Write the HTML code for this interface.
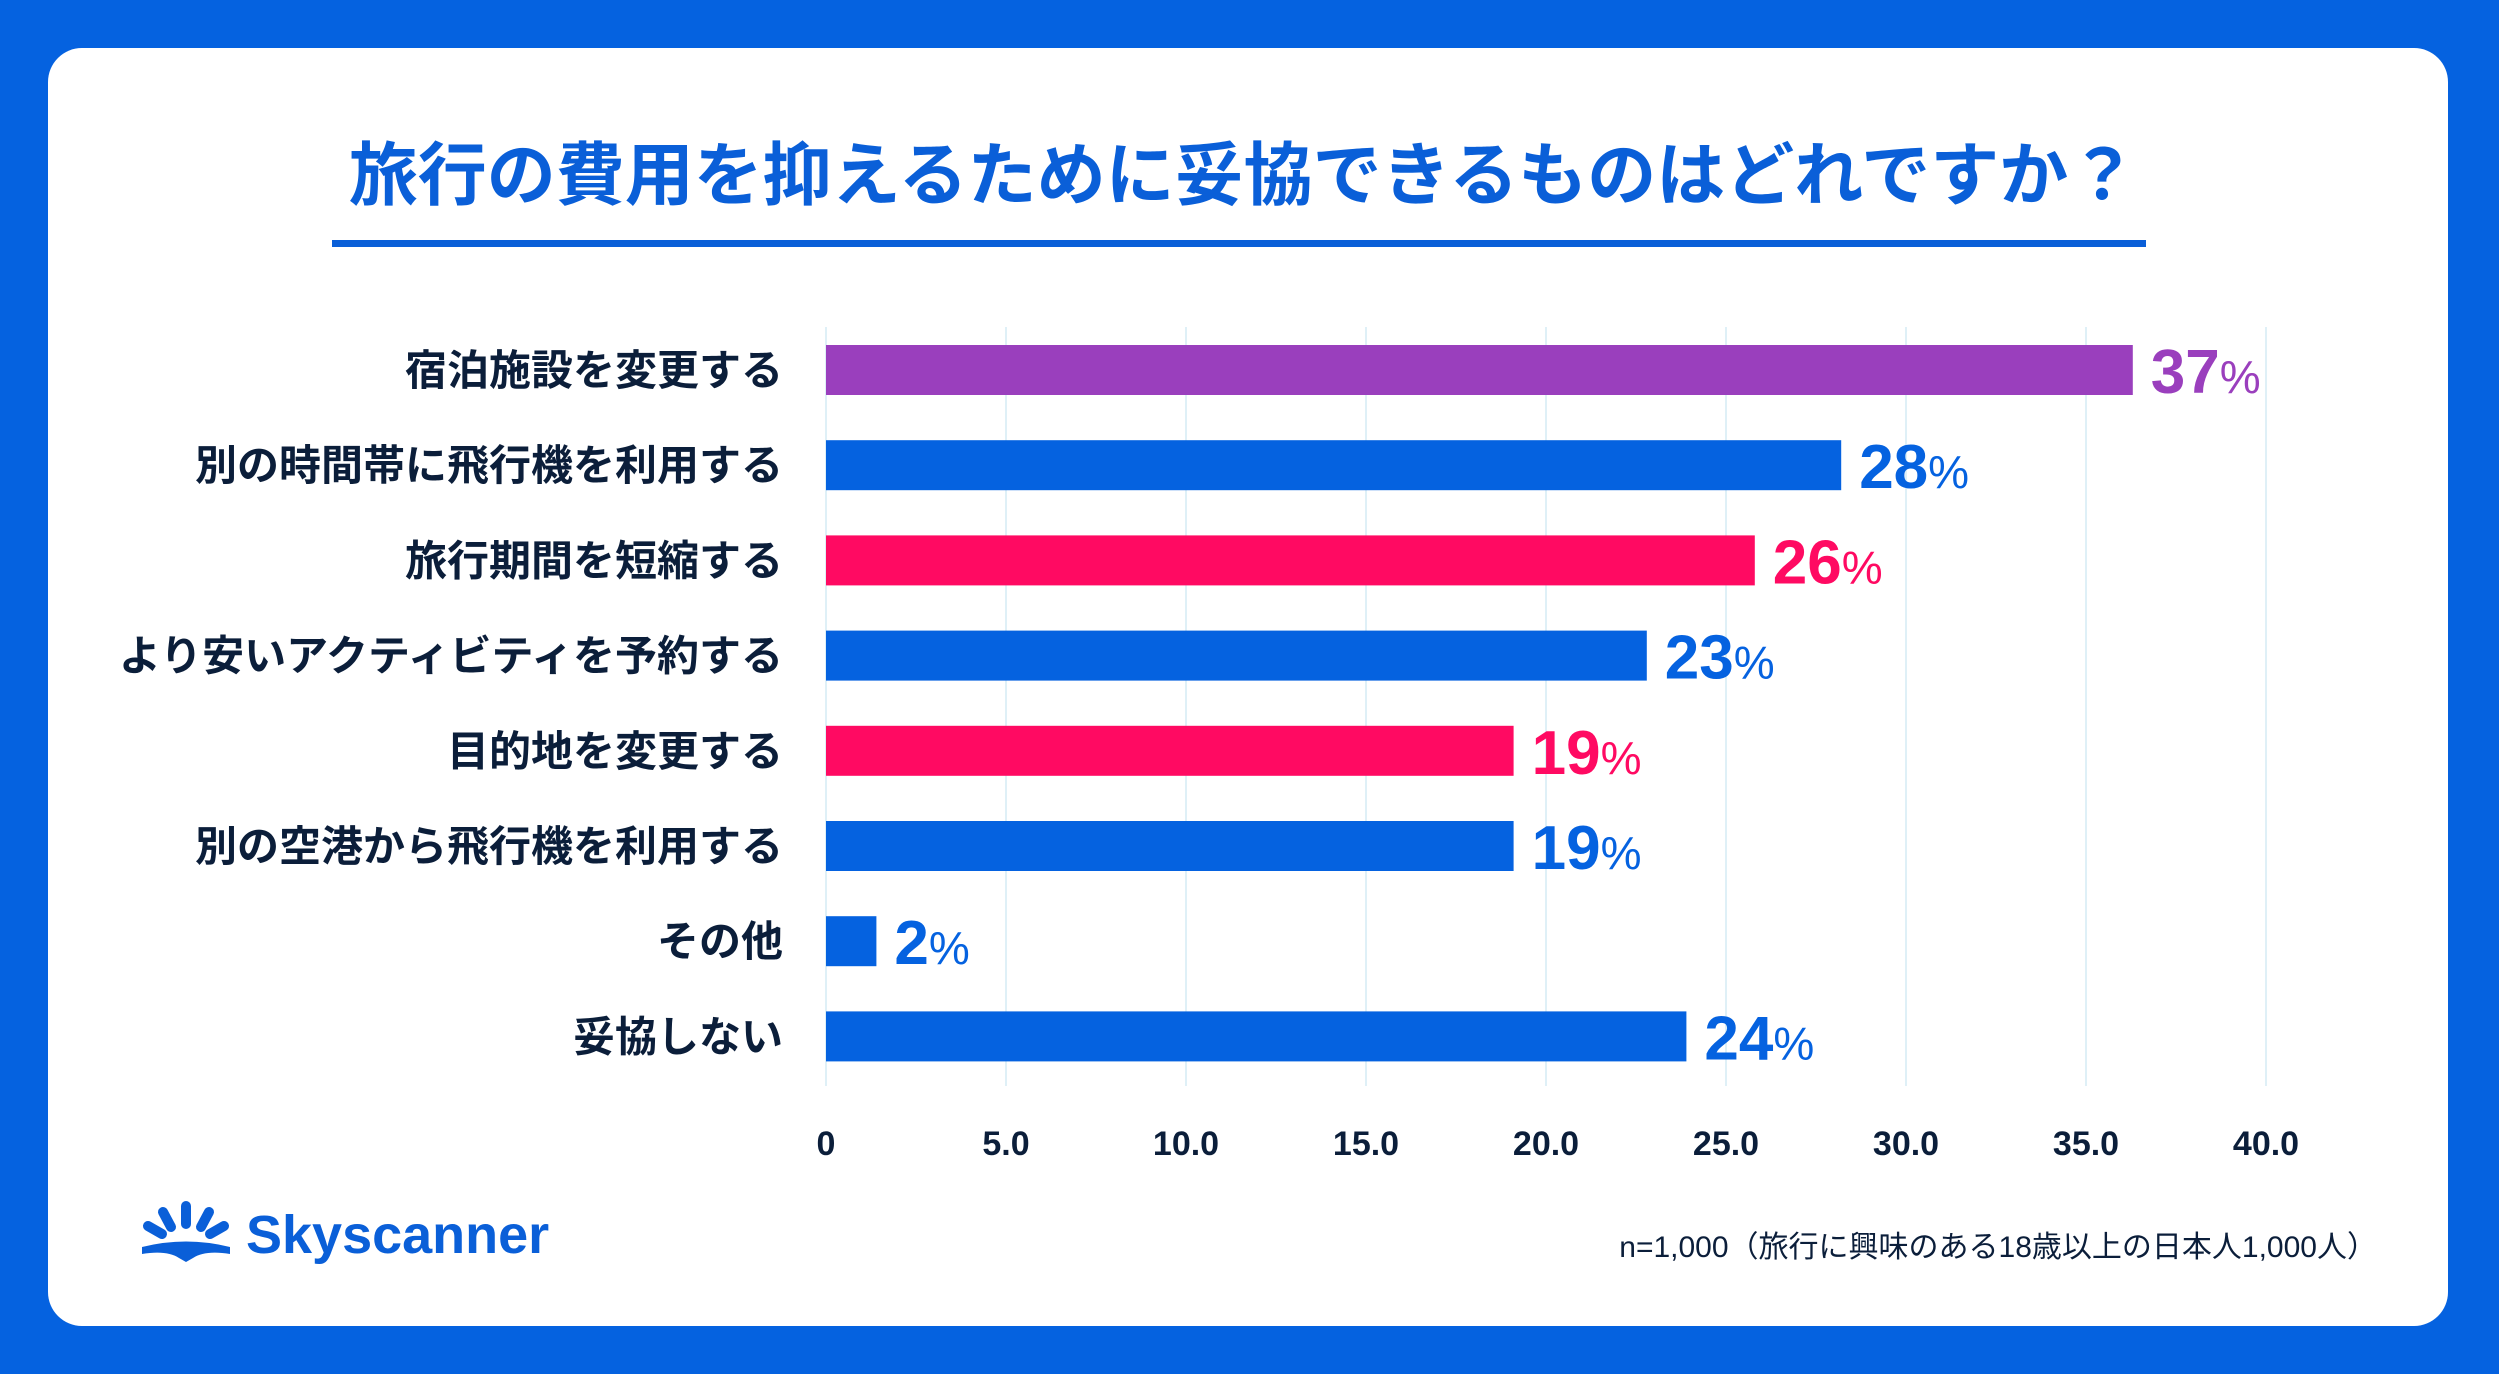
<!DOCTYPE html>
<html><head><meta charset="utf-8">
<style>
html,body{margin:0;padding:0;background:#0562e0;}
body{width:2499px;height:1374px;overflow:hidden;position:relative;font-family:"Liberation Sans","Noto Sans CJK JP",sans-serif;}
#card{position:absolute;left:48px;top:48px;width:2400px;height:1278px;background:#fff;border-radius:34px;}
svg{position:absolute;left:0;top:0;}
</style></head>
<body>
<div id="card"></div>
<svg id="chart" width="2499" height="1374" xmlns="http://www.w3.org/2000/svg">
  <text x="1243" y="199" text-anchor="middle" font-size="69" font-weight="bold" fill="#0a5fd8" font-family="Liberation Sans, Noto Sans CJK JP, sans-serif">旅行の費用を抑えるために妥協できるものはどれですか？</text>
  <rect x="332" y="240" width="1814" height="7" fill="#0a5fd8"/>
  <g id="grid"></g>
  <g id="bars"></g>
  <g id="xticks"></g>
  <g fill="#0a5fd8" stroke="#0a5fd8">
    <g stroke-width="10" stroke-linecap="round" fill="none">
      <line x1="186" y1="1206" x2="186" y2="1224"/>
      <line x1="163" y1="1212" x2="171" y2="1227"/>
      <line x1="209" y1="1212" x2="201" y2="1227"/>
      <line x1="148" y1="1226" x2="162" y2="1234"/>
      <line x1="224" y1="1226" x2="210" y2="1234"/>
    </g>
    <path d="M142 1247 Q186 1236 230 1247 L230 1254 Q205 1250 193 1258 L186 1262 L179 1258 Q167 1250 142 1254 Z" stroke="none"/>
    <text x="246" y="1253" font-size="54" font-weight="bold" stroke="none" font-family="Liberation Sans, sans-serif">Skyscanner</text>
  </g>
  <text x="2377" y="1257" text-anchor="end" font-size="30" fill="#0b1e3a" font-family="Liberation Sans, Noto Sans CJK JP, sans-serif">n=1,000（旅行に興味のある18歳以上の日本人1,000人）</text>
</svg>
<script>
const categories=["宿泊施設を変更する","別の時間帯に飛行機を利用する","旅行期間を短縮する","より安いアクティビティを予約する","目的地を変更する","別の空港から飛行機を利用する","その他","妥協しない"];
const values=[36.3,28.2,25.8,22.8,19.1,19.1,1.4,23.9];
const valueLabels=["37","28","26","23","19","19","2","24"];
const barColors=["#9a3fbd","#0562e0","#ff0a62","#0562e0","#ff0a62","#0562e0","#0562e0","#0562e0"];
const ticks=[0,5,10,15,20,25,30,35,40];
const tickLabels=["0","5.0","10.0","15.0","20.0","25.0","30.0","35.0","40.0"];

const NS="http://www.w3.org/2000/svg";
const x0=826,pxPerUnit=36;
function xs(v){return x0+v*pxPerUnit;}
function yc(i){return 370+i*95.2;}
const barH=50;
function mk(tag,attrs,parent){const e=document.createElementNS(NS,tag);for(const k in attrs)e.setAttribute(k,attrs[k]);parent.appendChild(e);return e;}
const grid=document.getElementById('grid'),bars=document.getElementById('bars'),xt=document.getElementById('xticks');
ticks.forEach((t,i)=>{
  const l=mk('line',{x1:xs(t),x2:xs(t),y1:327,y2:1086,stroke:"#dff0f7","stroke-width":2},grid);
  
  
  const tx=mk('text',{x:xs(t),y:1155,"text-anchor":"middle","font-size":34,"font-weight":"bold",fill:"#0b1e3a"},xt);
  tx.textContent=tickLabels[i];
  
  
});
categories.forEach((c,i)=>{
  const y=yc(i);
  const lab=mk('text',{x:783,y:y+15,"text-anchor":"end","font-size":42,"font-weight":"bold",fill:"#0b1e3a"},bars);
  lab.textContent=c;
  
  
  const r=mk('rect',{x:x0,y:y-barH/2,width:xs(values[i])-x0,height:barH,fill:barColors[i]},bars);
  
  
  const v=mk('text',{x:xs(values[i])+18,y:y+23,"font-size":62,"font-weight":"bold",fill:barColors[i]},bars);
  
  
  const n=mk('tspan',{},v);n.textContent=valueLabels[i];
  const p=mk('tspan',{"font-size":46,"font-weight":"normal"},v);p.textContent="%";
});
</script>
</body></html>
